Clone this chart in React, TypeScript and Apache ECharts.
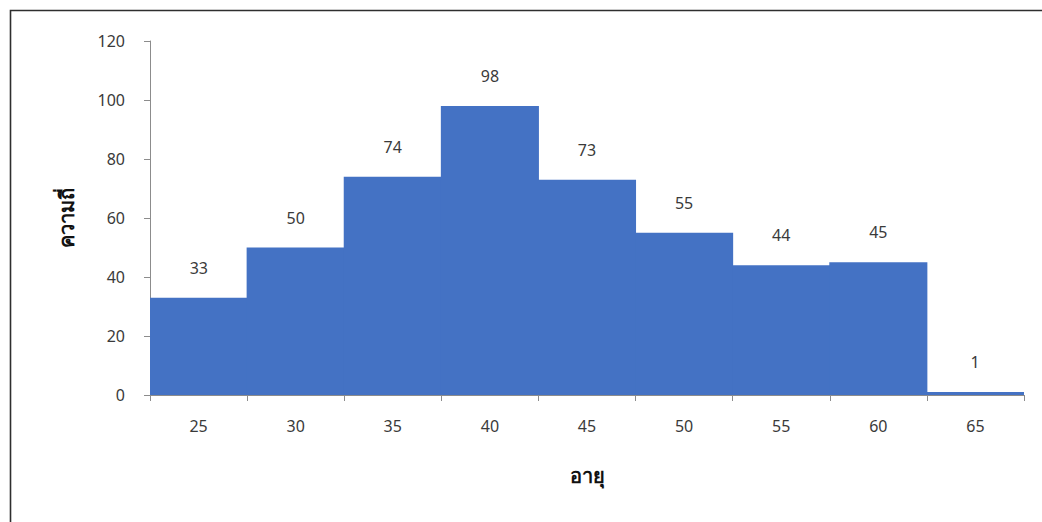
import React, { useEffect, useRef } from "react";
import * as echarts from "echarts";

// Age classes (class midpoints) and their frequencies
const ages = ["25", "30", "35", "40", "45", "50", "55", "60", "65"];
const counts = [33, 50, 74, 98, 73, 55, 44, 45, 1];

const xTitle = "อายุ";
const yTitle = "ความถี่";

const FONT = "'Noto Sans', 'Open Sans', sans-serif";
const TEXT = "#3a3a3a";
const AXIS = "#8c8c8c";
const BAR = "#4472C4";

export default function App() {
  const ref = useRef<HTMLDivElement>(null);

  useEffect(() => {
    if (!ref.current) return;
    const chart = echarts.init(ref.current, undefined, { renderer: "svg" });
    chart.setOption({
      animation: false,
      backgroundColor: "#ffffff",
      textStyle: { fontFamily: FONT },
      grid: { left: 150, right: 18, top: 41, bottom: 127, containLabel: false },
      graphic: [
        {
          type: "rect",
          shape: { x: 10.5, y: 10.5, width: 1100, height: 600 },
          style: { fill: "none", stroke: "#2e2e2e", lineWidth: 1.6 },
          silent: true,
          z: 100,
        },
      ],
      xAxis: {
        type: "category",
        data: ages,
        name: xTitle,
        nameLocation: "middle",
        nameGap: 70,
        nameTextStyle: { fontSize: 20, fontWeight: "bold", color: "#111111", fontFamily: FONT },
        axisLine: { show: true, lineStyle: { color: AXIS, width: 1 } },
        axisTick: { show: true, alignWithLabel: false, length: 6, lineStyle: { color: AXIS } },
        axisLabel: { margin: 23, fontSize: 16, color: TEXT, fontFamily: FONT },
        splitLine: { show: false },
        z: 0,
      },
      yAxis: {
        type: "value",
        min: 0,
        max: 120,
        interval: 20,
        name: yTitle,
        nameLocation: "middle",
        nameGap: 74,
        nameTextStyle: { fontSize: 20, fontWeight: "bold", color: "#111111", fontFamily: FONT },
        axisLine: { show: true, lineStyle: { color: AXIS, width: 1 } },
        axisTick: { show: true, length: 6, lineStyle: { color: AXIS } },
        axisLabel: { margin: 25, fontSize: 16, color: TEXT, fontFamily: FONT },
        splitLine: { show: false },
      },
      series: [
        {
          type: "bar",
          data: counts,
          barWidth: "101%",
          barGap: "0%",
          itemStyle: { color: BAR },
          z: 5,
          label: {
            show: true,
            position: "top",
            distance: 22,
            fontSize: 16,
            color: TEXT,
            fontFamily: FONT,
          },
        },
      ],
    });
    return () => chart.dispose();
  }, []);

  return (
    <div
      ref={ref}
      style={{ position: "fixed", left: 0, top: 0, width: 1042, height: 522 }}
    />
  );
}
